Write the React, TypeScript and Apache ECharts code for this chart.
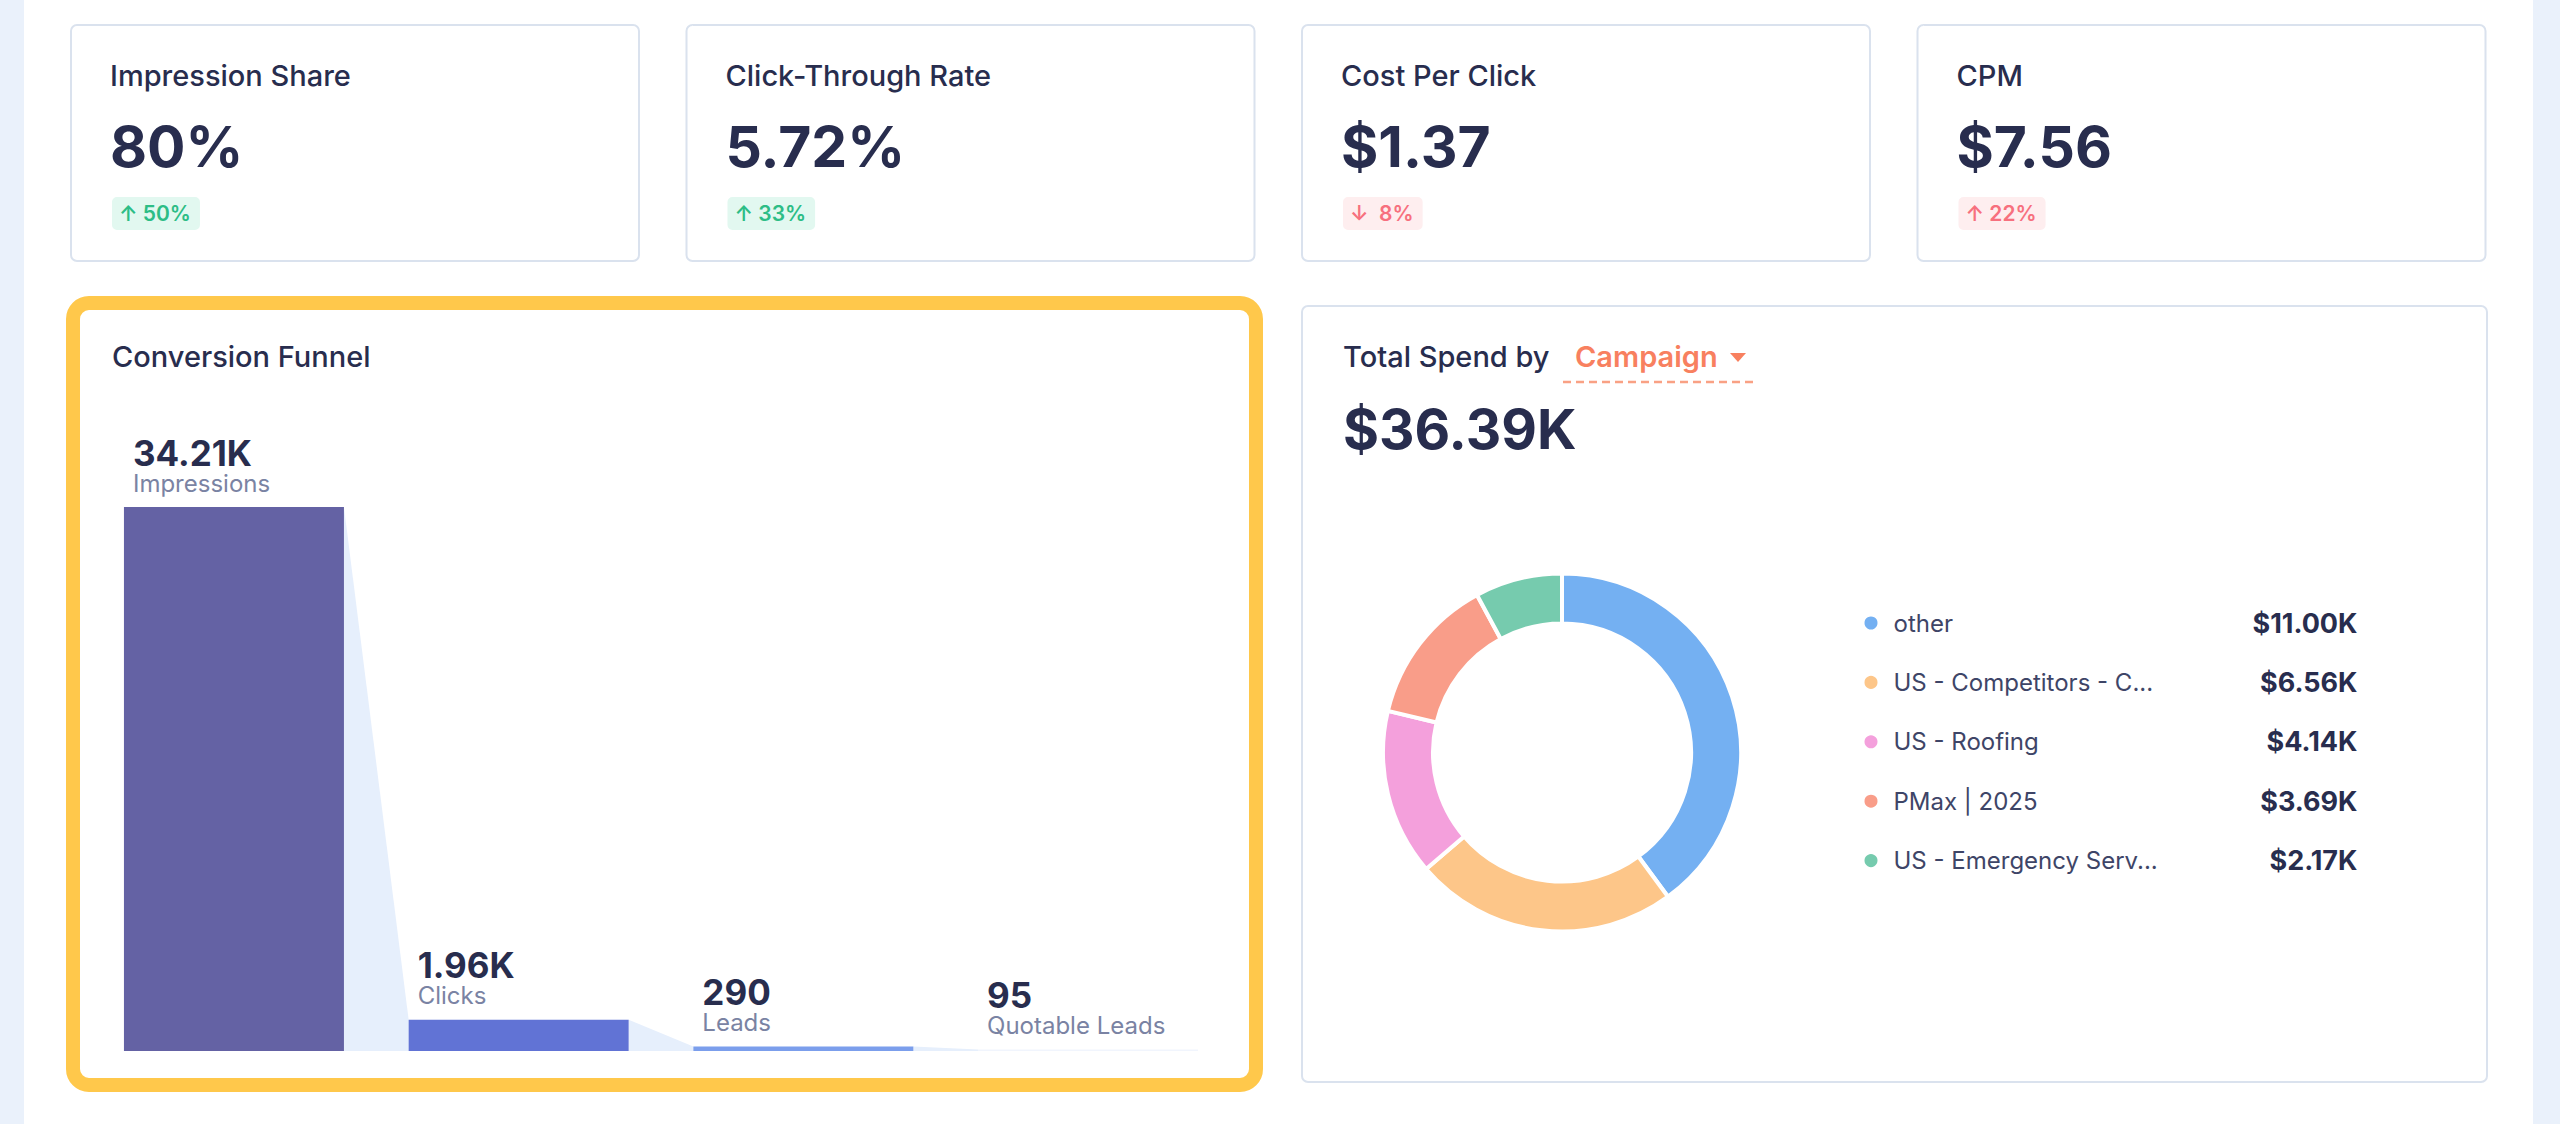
import React, { useEffect, useRef } from "react";
import * as echarts from "echarts";

// ---------- data ----------
const kpiTitles = ["Impression Share", "Click-Through Rate", "Cost Per Click", "CPM"];
const kpiValues = ["80%", "5.72%", "$1.37", "$7.56"];
const kpiDeltas = ["↑ 50%", "↑ 33%", "↓  8%", "↑ 22%"];
const kpiGood = [true, true, false, false];

const funnelStages = ["Impressions", "Clicks", "Leads", "Quotable Leads"];
const funnelValues = [34210, 1960, 290, 95];
const funnelLabels = ["34.21K", "1.96K", "290", "95"];

const spendCampaigns = [
  "other",
  "US - Competitors - C...",
  "US - Roofing",
  "PMax | 2025",
  "US - Emergency Serv...",
];
const spendValues = [11.0, 6.56, 4.14, 3.69, 2.17]; // $K
const totalSpend = "$36.39K";

// ---------- style ----------
const FONT = "Inter";
const DARK = "#282D4E";
const funnelColors = ["#6462A4", "#6173D5", "#7B9EEC", "#F1F5FD"];
const spendColors = ["#74B0F2", "#FDC689", "#F4A0DC", "#F99D89", "#76CBAE"];
const BAR_W = 220;

function midY(baseline: number, size: number) {
  return baseline - 0.36 * size;
}

export default function App() {
  const ref = useRef<HTMLDivElement>(null);
  useEffect(() => {
    if (!ref.current) return;
    const chart = echarts.init(ref.current, undefined, { renderer: "svg" });

    const elements: any[] = [];
    // page background
    elements.push({ type: "rect", z: -10, shape: { x: 0, y: 0, width: 2560, height: 1124 }, style: { fill: "#FFFFFF" } });
    elements.push({ type: "rect", z: -10, shape: { x: 0, y: 0, width: 24, height: 1124 }, style: { fill: "#EAF1FB" } });
    elements.push({ type: "rect", z: -10, shape: { x: 2533, y: 0, width: 27, height: 1124 }, style: { fill: "#EAF1FB" } });

    // KPI cards
    kpiTitles.forEach((t, i) => {
      const x = 71 + i * 615.5;
      elements.push({
        type: "rect",
        z: -5,
        shape: { x, y: 25, width: 568, height: 236, r: 6 },
        style: { fill: "#FFFFFF", stroke: "#DAE2EE", lineWidth: 2 },
      });
      elements.push({
        type: "text",
        z: 1,
        x: x + 39,
        y: midY(86, 29),
        style: { text: t, fill: DARK, fontSize: 29, fontWeight: 500, fontFamily: FONT, verticalAlign: "middle" },
      });
      elements.push({
        type: "text",
        z: 1,
        x: x + 39,
        y: midY(167, 57),
        style: { text: kpiValues[i], fill: DARK, fontSize: 57, fontWeight: 700, fontFamily: FONT, verticalAlign: "middle" },
      });
      elements.push({
        type: "text",
        z: 1,
        x: x + 41,
        y: 213.5,
        style: {
          text: kpiDeltas[i],
          fill: kpiGood[i] ? "#2DBD86" : "#F7707E",
          backgroundColor: kpiGood[i] ? "#E2F8F0" : "#FEEEEF",
          borderRadius: 5,
          padding: [6, 9, 6, 7],
          lineHeight: 21,
          fontSize: 21,
          fontWeight: 600,
          fontFamily: FONT,
          verticalAlign: "middle",
        },
      });
    });

    // funnel card with yellow highlight
    elements.push({
      type: "rect",
      z: -5,
      shape: { x: 73, y: 303, width: 1183, height: 782, r: 16 },
      style: { fill: "#FFFFFF", stroke: "#FFC84B", lineWidth: 14 },
    });
    elements.push({
      type: "text",
      z: 1,
      x: 112,
      y: midY(367, 29),
      style: { text: "Conversion Funnel", fill: DARK, fontSize: 29, fontWeight: 500, fontFamily: FONT, verticalAlign: "middle" },
    });

    // spend card
    elements.push({
      type: "rect",
      z: -5,
      shape: { x: 1302, y: 306, width: 1185, height: 776, r: 6 },
      style: { fill: "#FFFFFF", stroke: "#DAE2EE", lineWidth: 2 },
    });
    elements.push({
      type: "text",
      z: 1,
      x: 1343,
      y: midY(367, 29),
      style: { text: "Total Spend by", fill: DARK, fontSize: 29, fontWeight: 500, fontFamily: FONT, verticalAlign: "middle" },
    });
    elements.push({
      type: "text",
      z: 1,
      x: 1575,
      y: midY(367, 29),
      style: { text: "Campaign", fill: "#F8805F", fontSize: 29, fontWeight: 600, fontFamily: FONT, verticalAlign: "middle" },
    });
    elements.push({
      type: "polygon",
      z: 1,
      shape: { points: [[1730, 353], [1746, 353], [1738, 362]] },
      style: { fill: "#F8805F" },
    });
    elements.push({
      type: "line",
      z: 1,
      shape: { x1: 1563, y1: 382, x2: 1756, y2: 382 },
      style: { stroke: "#F9A184", lineWidth: 2.5, lineDash: [8, 5] },
    });
    elements.push({
      type: "text",
      z: 1,
      x: 1343,
      y: midY(449, 55),
      style: { text: totalSpend, fill: DARK, fontSize: 55, fontWeight: 700, fontFamily: FONT, verticalAlign: "middle" },
    });

    const option: any = {
      animation: false,
      backgroundColor: "transparent",
      textStyle: { fontFamily: FONT },
      graphic: { elements },
      grid: { left: 91.6, top: 507, width: 1138.8, height: 544 },
      xAxis: { type: "category", data: funnelStages, show: false, boundaryGap: true },
      yAxis: { type: "value", min: 0, max: Math.max(...funnelValues), show: false, splitLine: { show: false } },
      legend: {
        orient: "vertical",
        left: 1857.5,
        top: 604.5,
        icon: "circle",
        itemWidth: 15,
        itemHeight: 15,
        itemGap: 32.4,
        selectedMode: false,
        data: spendCampaigns,
        formatter: (name: string) => {
          const i = spendCampaigns.indexOf(name);
          return `{s| }{n|${name}}{v|$${spendValues[i].toFixed(2)}K}`;
        },
        textStyle: {
          fontFamily: FONT,
          rich: {
            s: { width: 10, fontSize: 24, lineHeight: 27 },
            n: { width: 314, fontSize: 24, lineHeight: 27, color: "#3E4567", fontFamily: FONT },
            v: { width: 150, align: "right", fontSize: 27, lineHeight: 27, fontWeight: 700, color: DARK, fontFamily: FONT },
          },
        },
      },
      series: [
        {
          type: "custom",
          z: 1,
          silent: true,
          renderItem: (params: any, api: any) => {
            const i = api.value(0);
            const a = api.coord([i, funnelValues[i]]);
            const b = api.coord([i + 1, funnelValues[i + 1]]);
            const base = api.coord([i, 0])[1];
            const h = BAR_W / 2;
            return {
              type: "polygon",
              shape: {
                points: [
                  [a[0] + h, a[1]],
                  [b[0] - h, b[1]],
                  [b[0] - h, base],
                  [a[0] + h, base],
                ],
              },
              style: { fill: "#E6EFFC" },
            };
          },
          data: funnelStages.slice(0, -1).map((_, i) => [i, 0]),
        },
        {
          type: "bar",
          z: 2,
          silent: true,
          barWidth: BAR_W,
          data: funnelValues.map((v, i) => ({ value: v, itemStyle: { color: funnelColors[i] } })),
          label: {
            show: true,
            position: [9, -10],
            align: "left",
            verticalAlign: "bottom",
            formatter: (p: any) => `{v|${funnelLabels[p.dataIndex]}}\n{n|${p.name}}`,
            rich: {
              v: { fontSize: 35, fontWeight: 700, color: DARK, lineHeight: 33, fontFamily: FONT },
              n: { fontSize: 24, color: "#7A83A3", lineHeight: 28, fontFamily: FONT },
            },
          },
        },
        {
          type: "pie",
          silent: true,
          center: [1562, 752.5],
          radius: [129, 179],
          startAngle: 90,
          clockwise: true,
          label: { show: false },
          labelLine: { show: false },
          itemStyle: { borderColor: "#FFFFFF", borderWidth: 4 },
          data: spendCampaigns.map((n, i) => ({ name: n, value: spendValues[i], itemStyle: { color: spendColors[i] } })),
        },
      ],
    };
    chart.setOption(option);
    return () => chart.dispose();
  }, []);

  return (
    <div
      ref={ref}
      style={{ position: "fixed", left: 0, top: 0, width: 2560, height: 1124, background: "#FFFFFF" }}
    />
  );
}
